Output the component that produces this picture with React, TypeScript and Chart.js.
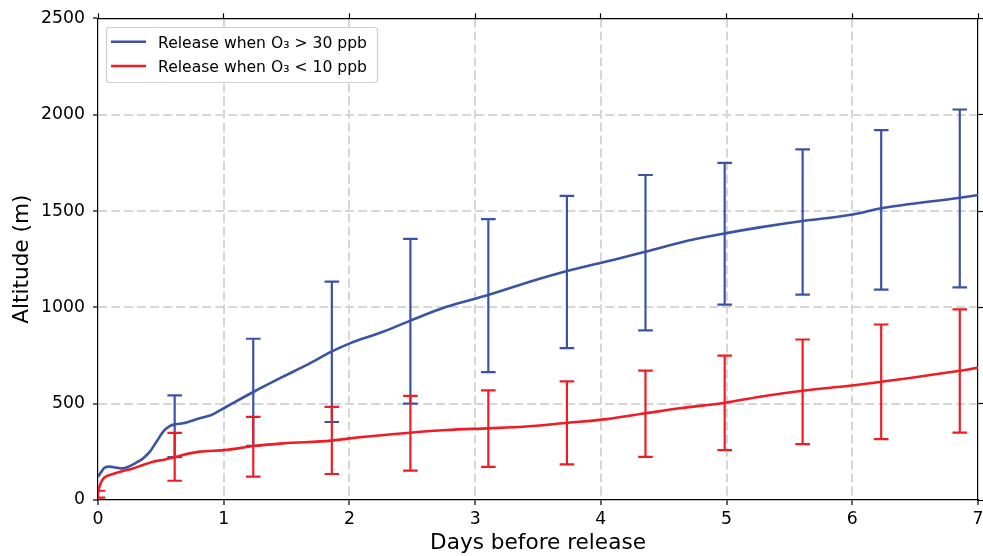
import React, { useEffect, useRef } from 'react';
import { Chart, registerables } from 'chart.js';

Chart.register(...registerables);

// ---- data ----
const blueLabel = 'Release when O₃ > 30 ppb';
const redLabel = 'Release when O₃ < 10 ppb';

const blueX = [0, 0.027, 0.053, 0.093, 0.146, 0.199, 0.252, 0.305, 0.358, 0.411, 0.465, 0.517, 0.57, 0.624, 0.676, 0.809, 0.902, 1.021, 1.239, 1.472, 1.658, 1.857, 2.003, 2.267, 2.48, 2.772, 3.103, 3.434, 3.739, 4.097, 4.357, 4.681, 4.988, 5.264, 5.604, 5.978, 6.232, 6.855, 7.0];
const blueY = [121, 147, 168, 173, 168, 164, 176, 194, 216, 250, 302, 354, 384, 394, 398, 424, 441, 484, 562, 640, 700, 770, 813, 873, 930, 1003, 1064, 1133, 1190, 1246, 1289, 1344, 1384, 1415, 1448, 1479, 1514, 1569, 1583];

const redX = [0, 0.008, 0.027, 0.053, 0.119, 0.199, 0.278, 0.358, 0.438, 0.517, 0.624, 0.73, 0.809, 1.021, 1.239, 1.472, 1.857, 2.003, 2.48, 2.772, 3.103, 3.381, 3.739, 4.045, 4.357, 4.628, 4.988, 5.264, 5.604, 5.978, 6.232, 6.855, 7.0];
const redY = [35, 61, 95, 118, 135, 150, 164, 182, 199, 208, 225, 242, 251, 260, 280, 294, 308, 320, 349, 363, 372, 380, 401, 420, 450, 476, 505, 536, 567, 593, 614, 671, 687];

const blueErrX = [0.61, 1.235, 1.86, 2.485, 3.105, 3.73, 4.355, 4.985, 5.605, 6.23, 6.855];
const blueLo = [223, 281, 405, 500, 664, 788, 880, 1014, 1066, 1092, 1104];
const blueHi = [543, 837, 1134, 1355, 1458, 1579, 1687, 1750, 1820, 1920, 2027];

const redErrX = [0, 0.61, 1.235, 1.86, 2.485, 3.105, 3.73, 4.355, 4.985, 5.605, 6.23, 6.855];
const redLo = [12, 100, 121, 135, 152, 172, 185, 224, 259, 290, 316, 350];
const redHi = [48, 348, 431, 483, 540, 569, 616, 672, 749, 833, 911, 989];

const xMin = 0, xMax = 7, xStep = 1;
const yMin = 0, yMax = 2500, yStep = 500;

const xTitle = 'Days before release';
const yTitle = 'Altitude (m)';

const BLUE = '#3b53a4';
const RED = '#ee1d25';
const FONT = 'DejaVu Sans';

export default function App() {
  const ref = useRef<HTMLCanvasElement>(null);

  useEffect(() => {
    document.body.style.margin = '0';
    const canvas = ref.current!;

    const toPts = (xs: number[], ys: number[]) => xs.map((x, i) => ({ x, y: ys[i] }));
    const errPts = (xs: number[], lo: number[], hi: number[]) => {
      const out: any[] = [];
      xs.forEach((x, i) => {
        out.push({ x, y: lo[i] }, { x, y: hi[i] }, { x, y: null });
      });
      return out;
    };

    const boxLegend = {
      id: 'boxLegend',
      afterDraw(chart: any) {
        const { ctx } = chart;
        const items = chart.data.datasets.filter((d: any) => d.inLegend);
        ctx.save();
        const bx = 106.5, by = 27.5, bw = 271, bh = 55;
        ctx.beginPath();
        (ctx as any).roundRect(bx, by, bw, bh, 3);
        ctx.fillStyle = 'rgba(255,255,255,0.85)';
        ctx.fill();
        ctx.strokeStyle = '#d0d0d0';
        ctx.lineWidth = 1.2;
        ctx.stroke();
        items.forEach((d: any, i: number) => {
          const y = 41.7 + i * 24.3;
          ctx.beginPath();
          ctx.moveTo(111, y);
          ctx.lineTo(146, y);
          ctx.strokeStyle = d.borderColor;
          ctx.lineWidth = 2.6;
          ctx.stroke();
          ctx.fillStyle = '#000';
          ctx.font = `15.6px "${FONT}"`;
          ctx.textAlign = 'left';
          ctx.textBaseline = 'alphabetic';
          ctx.fillText(d.label, 158, y + 5.8);
        });
        ctx.restore();
      },
    };

    const gridColor = (edgeA: number, edgeB: number) => (c: any) =>
      c.tick && (c.tick.value === edgeA || c.tick.value === edgeB) ? 'rgba(0,0,0,0)' : '#d6d6d6';

    const tickFont = { family: FONT, size: 17.3 };
    const plain = (v: any) => String(v);

    const chart = new Chart(canvas, {
      type: 'line',
      data: {
        datasets: [
          {
            label: blueLabel,
            inLegend: true,
            data: toPts(blueX, blueY),
            borderColor: BLUE,
            backgroundColor: BLUE,
            borderWidth: 2.6,
            pointRadius: 0,
            cubicInterpolationMode: 'monotone',
            order: 4,
          } as any,
          {
            label: 'blue-err',
            data: errPts(blueErrX, blueLo, blueHi),
            borderColor: BLUE,
            backgroundColor: BLUE,
            borderWidth: 2.2,
            pointStyle: 'line',
            pointRadius: 7.3,
            pointBorderWidth: 2.2,
            pointBorderColor: BLUE,
            spanGaps: false,
            tension: 0,
            order: 3,
          } as any,
          {
            label: redLabel,
            inLegend: true,
            data: toPts(redX, redY),
            borderColor: RED,
            backgroundColor: RED,
            borderWidth: 2.6,
            pointRadius: 0,
            cubicInterpolationMode: 'monotone',
            order: 2,
          } as any,
          {
            label: 'red-err',
            data: errPts(redErrX, redLo, redHi),
            borderColor: RED,
            backgroundColor: RED,
            borderWidth: 2.2,
            pointStyle: 'line',
            pointRadius: 7.3,
            pointBorderWidth: 2.2,
            pointBorderColor: RED,
            spanGaps: false,
            tension: 0,
            order: 1,
          } as any,
        ],
      },
      options: {
        responsive: false,
        animation: false,
        devicePixelRatio: 1,
        events: [],
        layout: { autoPadding: false, padding: { top: 18, right: 0, left: 0, bottom: 0 } },
        plugins: {
          legend: { display: false },
          tooltip: { enabled: false },
        },
        scales: {
          x: {
            type: 'linear',
            position: 'bottom',
            min: xMin,
            max: xMax,
            ticks: { stepSize: xStep, color: '#000', font: tickFont, padding: 4, maxRotation: 0, callback: plain },
            grid: {
              color: gridColor(xMin, xMax),
              lineWidth: 2,
              tickColor: '#000',
              tickLength: 5,
              tickWidth: 1.2,
              tickBorderDash: [],
            },
            border: { display: true, color: '#000', width: 1.2, dash: [9, 4] },
            title: {
              display: true,
              text: xTitle,
              color: '#000',
              font: { family: FONT, size: 21.6 },
              padding: { top: -2, bottom: 0 },
            },
            afterFit: (s: any) => { s.height = 56; s.paddingLeft = 0; s.paddingRight = 5; },
          },
          y: {
            type: 'linear',
            position: 'left',
            min: yMin,
            max: yMax,
            ticks: { stepSize: yStep, color: '#000', font: tickFont, padding: 8, callback: plain },
            grid: {
              color: gridColor(yMin, yMax),
              lineWidth: 2,
              tickColor: '#000',
              tickLength: 5,
              tickWidth: 1.2,
              tickBorderDash: [],
            },
            border: { display: true, color: '#000', width: 1.2, dash: [9, 4] },
            title: {
              display: true,
              text: yTitle,
              color: '#000',
              font: { family: FONT, size: 21.6 },
              padding: { top: 9, bottom: 0 },
            },
            afterFit: (s: any) => { s.width = 98; },
          },
          x2: {
            type: 'linear',
            position: 'top',
            min: xMin,
            max: xMax,
            ticks: { stepSize: xStep, display: false },
            grid: { drawOnChartArea: false, tickColor: '#000', tickLength: 5, tickWidth: 1.2 },
            border: { display: true, color: '#000', width: 1.2 },
            afterFit: (s: any) => { s.height = 0; s.paddingLeft = 0; s.paddingRight = 0; },
          },
          y2: {
            type: 'linear',
            position: 'right',
            min: yMin,
            max: yMax,
            ticks: { stepSize: yStep, display: false },
            grid: { drawOnChartArea: false, tickColor: '#000', tickLength: 5, tickWidth: 1.2 },
            border: { display: true, color: '#000', width: 1.2 },
            afterFit: (s: any) => { s.width = 0; },
          },
        },
      } as any,
      plugins: [boxLegend],
    });

    return () => chart.destroy();
  }, []);

  return (
    <div style={{ width: 983, height: 556, background: '#fff' }}>
      <canvas ref={ref} width={983} height={556} style={{ display: 'block' }} />
    </div>
  );
}
